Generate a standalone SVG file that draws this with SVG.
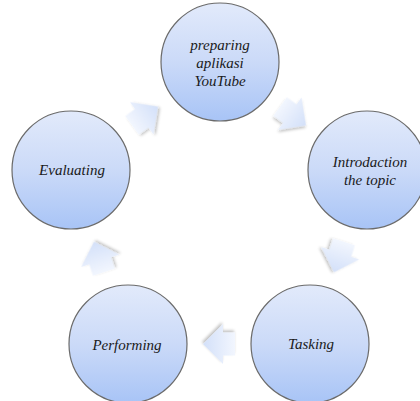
<svg xmlns="http://www.w3.org/2000/svg" width="420" height="401" viewBox="0 0 420 401">
<defs>
<linearGradient id="nodeFill" x1="0" y1="0" x2="0" y2="1">
<stop offset="0" stop-color="#e2eafb"/>
<stop offset="0.5" stop-color="#cbdaf8"/>
<stop offset="1" stop-color="#a8c4f6"/>
</linearGradient>
<linearGradient id="arrowFill" x1="0" y1="0" x2="1" y2="0">
<stop offset="0" stop-color="#f2f6fe"/>
<stop offset="1" stop-color="#d3e0f9"/>
</linearGradient>
<filter id="shadow" x="-20%" y="-20%" width="140%" height="140%">
<feGaussianBlur in="SourceAlpha" stdDeviation="1.5"/>
<feOffset dx="1" dy="2" result="b"/>
<feComponentTransfer><feFuncA type="linear" slope="0.25"/></feComponentTransfer>
<feMerge><feMergeNode/><feMergeNode in="SourceGraphic"/></feMerge>
</filter>
<polygon id="arrow" points="-16,-11.5 -4,-11.5 -4,-20 16,0 -4,20 -4,11.5 -16,11.5"/>
</defs>
<style>
.node circle { fill: url(#nodeFill); stroke: #6b6b6b; stroke-width: 1.2; }
.lbl { font-family: 'Liberation Serif', 'DejaVu Serif', serif; font-style: italic; font-size: 15px; fill: #1a1a1a; text-anchor: middle; }
.conn use { fill: url(#arrowFill); filter: url(#shadow); }
</style>
<g id="connectors" class="conn">
<use href="#arrow" transform="translate(293,116) rotate(36)"/>
<use href="#arrow" transform="translate(339,257) rotate(108)"/>
<use href="#arrow" transform="translate(219,344) rotate(180)"/>
<use href="#arrow" transform="translate(99,257) rotate(252)"/>
<use href="#arrow" transform="translate(145,116) rotate(324)"/>
</g>
<g id="node-preparing" class="node">
<circle cx="220" cy="62" r="59"/>
<text class="lbl" x="220" y="50">preparing</text>
<text class="lbl" x="220" y="68">aplikasi</text>
<text class="lbl" x="220" y="86">YouTube</text>
</g>
<g id="node-introdaction" class="node">
<circle cx="367" cy="170" r="59"/>
<text class="lbl" x="370" y="167">Introdaction</text>
<text class="lbl" x="370" y="185">the topic</text>
</g>
<g id="node-tasking" class="node">
<circle cx="310" cy="344" r="59"/>
<text class="lbl" x="311" y="349">Tasking</text>
</g>
<g id="node-performing" class="node">
<circle cx="128" cy="344" r="59"/>
<text class="lbl" x="127" y="350">Performing</text>
</g>
<g id="node-evaluating" class="node">
<circle cx="71" cy="170" r="59"/>
<text class="lbl" x="72" y="175">Evaluating</text>
</g>
</svg>
